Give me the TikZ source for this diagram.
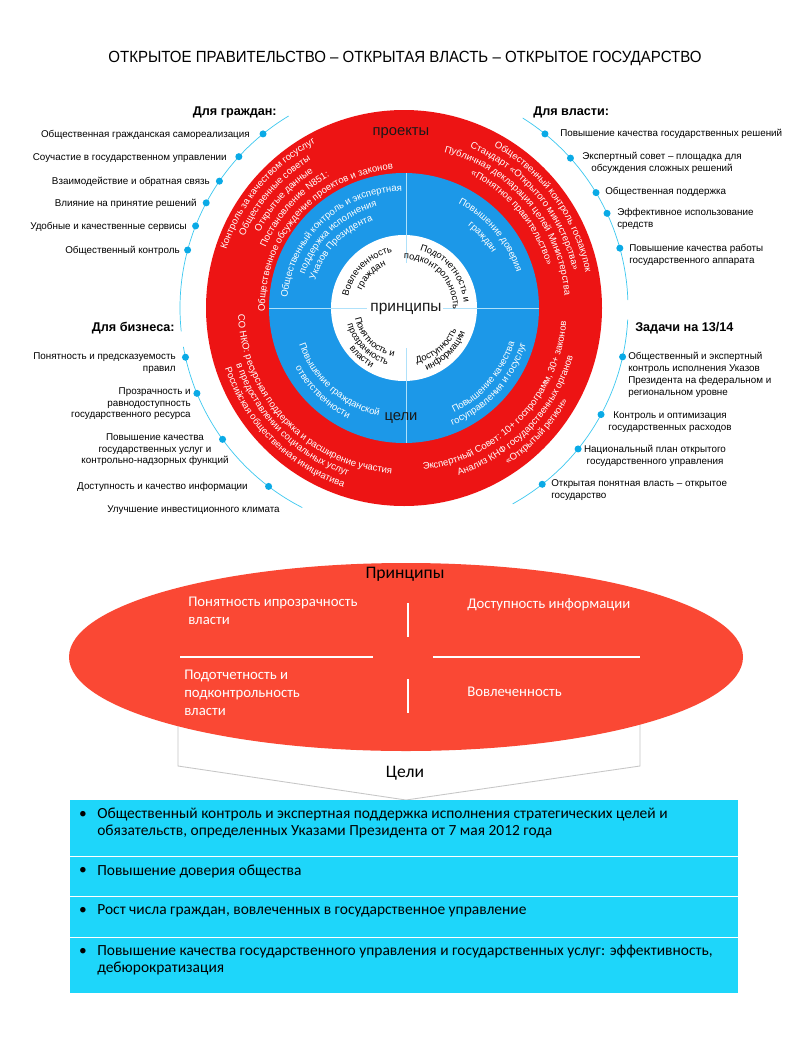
\documentclass[tikz,border=0pt]{standalone}
\usepackage{fontspec}
\setmainfont{Liberation Sans}
\newfontfamily\calfont{Carlito}
\usetikzlibrary{positioning,calc,decorations.text}

\definecolor{ringred}{RGB}{237,20,20}
\definecolor{ringblue}{RGB}{28,152,232}
\definecolor{arcline}{RGB}{60,200,240}
\definecolor{dotblue}{RGB}{10,170,230}
\definecolor{crossblue}{RGB}{175,225,250}
\definecolor{ovalred}{RGB}{250,72,52}
\definecolor{goalcyan}{RGB}{30,214,250}

\newcommand\ringfont{\fontsize{6.8}{8}\selectfont\color{white}}
\newcommand\corefont{\fontsize{6.6}{8}\selectfont\color{black}}
% curved text: radius, middle angle, format, text
\newcommand\cwtext[4]{\path[decorate,decoration={text along path,text align=center,text={|#3|#4}}]
  ($(cc)+(#2+75:#1)$) arc[start angle=#2+75,end angle=#2-75,radius=#1];}
\newcommand\ccwtext[4]{\path[decorate,decoration={text along path,text align=center,text={|#3|#4}}]
  ($(cc)+(#2-75:#1)$) arc[start angle=#2-75,end angle=#2+75,radius=#1];}

\begin{document}
\begin{tikzpicture}[x=0.025cm, y=0.025cm,
  item/.style={font=\fontsize{7}{8.5}\selectfont, inner sep=0pt},
  head/.style={font=\fontsize{9}{11}\selectfont\bfseries, inner sep=0pt},
  bead/.style={circle, fill=dotblue, inner sep=0pt, minimum size=5pt},
  tag/.style={font=\fontsize{10.5}{12}\selectfont, text=black!90, inner sep=1pt},
  ovaltxt/.style={font=\calfont\fontsize{10.5}{12.8}\selectfont, text=white, align=left, inner sep=0pt},
  goaltxt/.style={font=\calfont\fontsize{11}{12.2}\selectfont, align=left, inner sep=0pt},
  cross/.style={draw=crossblue, line width=0.7pt},
  split/.style={draw=white, line width=1.2pt}
]
\fill[white] (0,0) rectangle (800,-1039);
\useasboundingbox (0,0) rectangle (800,-1039);

\node[font=\fontsize{11.5}{13}\selectfont, inner sep=0pt] (title) at (405,-58) {\scalebox{0.93}[1]{ОТКРЫТОЕ ПРАВИТЕЛЬСТВО – ОТКРЫТАЯ ВЛАСТЬ – ОТКРЫТОЕ ГОСУДАРСТВО}};

% rings
\coordinate (cc) at (404,-308);
\fill[ringred] (cc) circle[radius=198];
\fill[ringblue] (cc) circle[radius=135];
\fill[white] (cc) circle[radius=73];
\draw[cross] ($(cc)+(-135,0)$) -- ($(cc)+(-37,0)$);
\draw[cross] ($(cc)+(39,0)$) -- ($(cc)+(135,0)$);
\draw[cross] ($(cc)+(2,135)$) -- ($(cc)+(2,45)$);
\draw[cross] ($(cc)+(2,-40)$) -- ($(cc)+(2,-135)$);

\foreach \a/\b in {121/186, 190/243, 58/2, -3/-61}
  \draw[arcline, line width=0.5pt] ($(cc)+(\a:224)$) arc[start angle=\a, end angle=\b, radius=224];
\foreach \a [count=\i] in {129,137.5,145.5,152,158.5,165,51,42,31,25,15.5,192.7,202.4,215.9,232.8,-12.6,-28.4,-39,-51.9}
  \node[bead] (bd\i) at ($(cc)+(\a:224)$) {};

% red ring
\cwtext{187}{140}{\ringfont}{Контроль за качеством госуслуг}
\cwtext{175}{139}{\ringfont}{Общественные советы}
\cwtext{163}{138}{\ringfont}{Открытые данные}
\cwtext{151}{138}{\ringfont}{Постановление N851:}
\cwtext{139}{138}{\ringfont}{Общественное обсуждение проектов и законов}
\cwtext{185}{36}{\ringfont}{Общественный контроль госзакупок}
\cwtext{173}{40}{\ringfont}{Стандарт «Открытого министерства»}
\cwtext{161}{40}{\ringfont}{Публичная декларация целей Министерства}
\cwtext{149}{40}{\ringfont}{«Понятное правительство»}
\ccwtext{166}{224}{\ringfont}{СО НКО: ресурсная поддержка и расширение участия}
\ccwtext{177}{225}{\ringfont}{в предоставлении социальных услуг}
\ccwtext{189}{225}{\ringfont}{Российская общественная инициатива}
\ccwtext{163}{316}{\ringfont}{Экспертный Совет: 10+ госпрограмм, 30+ законов}
\ccwtext{176}{316}{\ringfont}{Анализ КНФ государственных органов}
\ccwtext{188}{317}{\ringfont}{«Открытый регион»}

% blue ring
\cwtext{117}{133}{\ringfont}{Общественный контроль и экспертная}
\cwtext{105}{133}{\ringfont}{поддержка исполнения}
\cwtext{93}{136}{\ringfont}{Указов Президента}
\cwtext{118}{40}{\ringfont}{Повышение доверия}
\cwtext{104}{42}{\ringfont}{граждан}
\ccwtext{111}{228}{\ringfont}{Повышение гражданской}
\ccwtext{124}{226}{\ringfont}{ответственности}
\ccwtext{116}{319}{\ringfont}{Повышение качества}
\ccwtext{127}{318}{\ringfont}{госуправления и госуслуг}

% core
\cwtext{57}{135}{\corefont}{Вовлеченность}
\cwtext{46}{135}{\corefont}{граждан}
\cwtext{60}{40}{\corefont}{Подотчетность и}
\cwtext{49}{44}{\corefont}{подконтрольность}
\ccwtext{50}{225}{\corefont}{Понятность и}
\ccwtext{59}{225}{\corefont}{прозрачность}
\ccwtext{68}{229}{\corefont}{власти}
\ccwtext{57}{310}{\corefont}{Доступность}
\ccwtext{66}{314}{\corefont}{информации}

\node[tag] (proj) at (401,-133) {проекты};
\node[tag, font=\fontsize{11}{12}\selectfont] (princ) at (406,-309) {принципы};
\node[tag] (goal) at (401,-418) {цели};

% side lists
\node[head, anchor=east] (hcit) at (277,-112) {Для граждан:};
\node[head, anchor=west] (hgov) at (533,-112) {Для власти:};
\node[head, anchor=east] (hbiz) at (175,-328) {Для бизнеса:};
\node[head, anchor=west] (htask) at (635,-328) {Задачи на 13/14};

\foreach \n/\x/\y/\lab in {g1/250/135/{Общественная гражданская самореализация},
    g2/227/158/{Соучастие в государственном управлении},
    g3/210/182/{Взаимодействие и обратная связь},
    g4/197/204/{Влияние на принятие решений},
    g5/187/227/{Удобные и качественные сервисы},
    g6/180/251/{Общественный контроль},
    b4/248/487/{Доступность и качество информации},
    b5/280/510/{Улучшение инвестиционного климата}}
  \node[item, anchor=east] (\n) at (\x,-\y) {\lab};

\node[item, anchor=west] (v1) at (560,-134) {Повышение качества государственных решений};
\node[item, anchor=north west, align=center] (v2) at (582,-152) {Экспертный совет – площадка для\\обсуждения сложных решений};
\node[item, anchor=west] (v3) at (605,-192) {Общественная поддержка};
\node[item, anchor=north west, align=left] (v4) at (617,-208) {Эффективное использование\\средств};
\node[item, anchor=north west, align=left] (v5) at (629,-244) {Повышение качества работы\\государственного аппарата};

\node[item, anchor=north east, align=right] (b1) at (176,-352) {Понятность и предсказуемость\\правил};
\node[item, anchor=north east, align=right] (b2) at (191,-387) {Прозрачность и\\равнодоступность\\государственного ресурса};
\node[item, anchor=north, align=center] (b3) at (155,-433) {Повышение качества\\государственных услуг и\\контрольно-надзорных функций};

\node[item, anchor=north west, align=left] (z1) at (628,-352) {Общественный и экспертный\\контроль исполнения Указов\\Президента на федеральном и\\региональном уровне};
\node[item, anchor=north, align=center] (z2) at (670,-411) {Контроль и оптимизация\\государственных расходов};
\node[item, anchor=north, align=center] (z3) at (655,-445) {Национальный план открытого\\государственного управления};
\node[item, anchor=north west, align=left] (z4) at (551,-479) {Открытая понятная власть – открытое\\государство};

% principles oval
\filldraw[fill=white, draw=gray!45, line width=0.6pt] (178,-690) -- (640,-690) -- (640,-766) -- (406,-800) -- (178,-766) -- cycle;
\fill[ovalred] (406,-657) ellipse[x radius=337, y radius=94];
\draw[split] (180,-657) -- (373,-657);
\draw[split] (433,-657) -- (640,-657);
\draw[split] (408,-603) -- (408,-637);
\draw[split] (408,-679) -- (408,-713);
\node[font=\calfont\fontsize{12.5}{14}\selectfont, inner sep=0pt] (ptitle) at (405,-574) {Принципы};
\node[ovaltxt, anchor=north west] (p1) at (188,-597) {Понятность ипрозрачность\\власти};
\node[ovaltxt, anchor=west] (p2) at (467,-605) {Доступность информации};
\node[ovaltxt, anchor=north west] (p3) at (184,-670) {Подотчетность и\\подконтрольность\\власти};
\node[ovaltxt, anchor=west] (p4) at (467,-692) {Вовлеченность};
\node[font=\calfont\fontsize{12.5}{14}\selectfont, inner sep=0pt] (gtitle) at (405,-773) {Цели};

% goals
\fill[goalcyan] (70,-800) rectangle (738,-993);
\draw[split, line width=1pt] (70,-856.5) -- (738,-856.5);
\draw[split, line width=1pt] (70,-896.5) -- (738,-896.5);
\draw[split, line width=1pt] (70,-937.5) -- (738,-937.5);
\foreach \n/\y in {k1/815, k2/871, k3/911, k4/952}
  \node[goaltxt] (\n) at (83,-\y) {•};
\node[goaltxt, anchor=north west] (t1) at (97,-808) {Общественный контроль и экспертная поддержка исполнения стратегических целей и\\обязательств, определенных Указами Президента от 7 мая 2012 года};
\node[goaltxt, anchor=west] (t2) at (97,-871) {Повышение доверия общества};
\node[goaltxt, anchor=west] (t3) at (97,-911) {Рост числа граждан, вовлеченных в государственное управление};
\node[goaltxt, anchor=north west] (t4) at (97,-945) {Повышение качества государственного управления и государственных услуг: эффективность,\\дебюрократизация};
\end{tikzpicture}
\end{document}
